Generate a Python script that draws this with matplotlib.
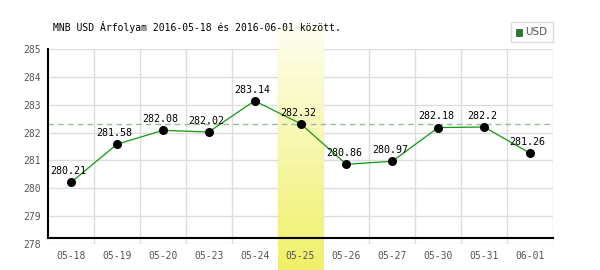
import numpy as np
import matplotlib
matplotlib.use("Agg")
import matplotlib.pyplot as plt
from matplotlib.patches import Rectangle

dates = ["05-18", "05-19", "05-20", "05-23", "05-24", "05-25",
         "05-26", "05-27", "05-30", "05-31", "06-01"]
rates = [280.21, 281.58, 282.08, 282.02, 283.14, 282.32,
         280.86, 280.97, 282.18, 282.2, 281.26]
labels = ["280.21", "281.58", "282.08", "282.02", "283.14", "282.32",
          "280.86", "280.97", "282.18", "282.2", "281.26"]
highlight = 5
yticks = [278, 279, 280, 281, 282, 283, 284, 285]

mono = "DejaVu Sans Mono"

fig = plt.figure(figsize=(6, 2.7), dpi=100)
ax = fig.add_axes([48/600, 1 - 244/270, 505/600, 195/270])
ax.set_facecolor("none")
x = np.arange(len(dates))

# grid
for v in yticks:
    ax.axhline(v, color="#dddddd", lw=1, zorder=1)
for k in range(len(dates)):
    ax.axvline(k + 0.5, color="#dddddd", lw=1, zorder=1)

# highlighted day (yellow gradient, runs past the plot area)
grad = np.linspace(0, 1, 256).reshape(-1, 1)
top = np.array([0xfe, 0xfe, 0xf0]) / 255
bot = np.array([0xf0, 0xf0, 0x68]) / 255
img = top + (bot - top) * grad[..., None]
ax.imshow(img, extent=[highlight - 0.5, highlight + 0.5, 277.05, 285.85],
          aspect="auto", origin="upper", zorder=1.2, clip_on=False)
ax.set_xlim(-0.5, len(dates) - 0.5)
ax.set_ylim(278, 285)

for s in ax.spines.values():
    s.set_visible(False)
ax.plot([-0.5, -0.5], [278.22, 285], color="black", lw=1.5, zorder=5, clip_on=False)
ax.plot([-0.5, len(dates) - 0.5], [278.22, 278.22], color="black", lw=1.5,
        zorder=5, clip_on=False)

ax.axhline(rates[highlight], color="#99bb99", lw=1, ls=(0, (4, 3)), zorder=3)
ax.plot(x, rates, color="#119911", lw=0.9, zorder=4)
ax.scatter(x, rates, s=30, color="black", zorder=6)
for xi, yi, t in zip(x, rates, labels):
    ax.text(xi - 0.05, yi + 0.22, t, ha="center", va="bottom",
            fontsize=7.2, family=mono, color="black", zorder=7)

ax.set_xticks(x)
ax.set_xticklabels(dates)
ax.set_yticks(yticks)
ax.tick_params(length=0, labelsize=7, colors="#555555", pad=5)
for lab in ax.get_xticklabels() + ax.get_yticklabels():
    lab.set_family(mono)

fig.text(53/600, 1 - 27/270, "MNB USD Árfolyam 2016-05-18 és 2016-06-01 között.",
         family=mono, fontsize=7, va="center", ha="left", color="black")

# legend box
fig.patches.append(Rectangle((511/600, 1 - 42/270), 42/600, 20/270,
                             transform=fig.transFigure, fill=False,
                             edgecolor="#dddddd", lw=1))
fig.patches.append(Rectangle((516/600, 1 - 35.5/270), 6/600, 6/270,
                             transform=fig.transFigure, facecolor="#118811",
                             edgecolor="#555555", lw=0.6))
fig.text(525/600, 1 - 32/270, "USD", fontsize=7.5, color="#555555",
         va="center", ha="left")

fig.savefig("out.png", dpi=100)
